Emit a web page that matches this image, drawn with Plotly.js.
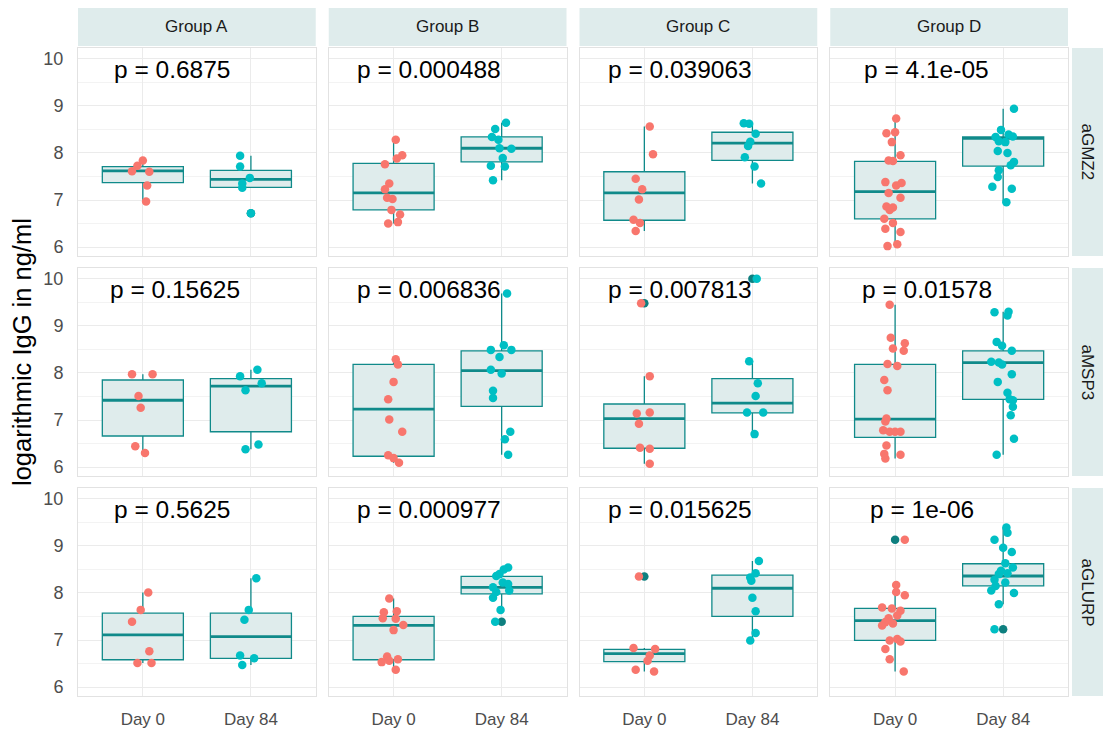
<!DOCTYPE html>
<html><head><meta charset="utf-8">
<script src="https://cdn.plot.ly/plotly-3.0.1.min.js"></script>
<style>html,body{margin:0;padding:0;background:#fff}</style>
</head><body><div id="chart" style="width:1103px;height:735px"></div>
<script>
// ---------- categories / labels ----------
const groups = ['Group A', 'Group B', 'Group C', 'Group D'];
const antigens = ['aGMZ2', 'aMSP3', 'aGLURP'];
const days = ['Day 0', 'Day 84'];
const dayPos = [1, 2];
const yTicks = [6, 7, 8, 9, 10];
const pLabels = [
  ['p = 0.6875', 'p = 0.000488', 'p = 0.039063', 'p = 4.1e-05'],
  ['p = 0.15625', 'p = 0.006836', 'p = 0.007813', 'p = 0.01578'],
  ['p = 0.5625', 'p = 0.000977', 'p = 0.015625', 'p = 1e-06']
];

// ---------- aGMZ2 ----------
const GMZ2_A_D0 = [7.84,7.73,7.61,7.60,7.31,6.97];
const GMZ2_A_D0_DX = [0,-0.05,-0.10,0.06,0.04,0.03];
const GMZ2_A_D84 = [7.94,7.71,7.47,7.35,7.26,6.72];
const GMZ2_A_D84_DX = [-0.10,-0.10,-0.01,-0.08,-0.08,0];
const GMZ2_A_BOX = [[6.97,7.37,7.62,7.71,7.84],[7.26,7.27,7.44,7.63,7.94]];
const GMZ2_A_OUT = [[],[6.72]];

const GMZ2_B_D0 = [8.28,7.95,7.88,7.76,7.35,7.23,7.05,7.02,6.79,6.69,6.53,6.50];
const GMZ2_B_D0_DX = [0.02,0.08,0.03,-0.08,-0.04,-0.08,-0.06,-0.01,-0.02,0.06,0.04,-0.05];
const GMZ2_B_D84 = [8.64,8.51,8.34,8.28,8.10,8.09,7.89,7.73,7.71,7.42];
const GMZ2_B_D84_DX = [0.04,-0.06,-0.09,-0.03,-0.02,0.09,0.01,-0.10,0.03,-0.08];
const GMZ2_B_BOX = [[6.50,6.79,7.15,7.78,8.28],[7.42,7.81,8.10,8.34,8.64]];
const GMZ2_B_OUT = [[],[]];

const GMZ2_C_D0 = [8.56,7.97,7.45,7.23,7.01,6.58,6.51,6.34];
const GMZ2_C_D0_DX = [0.05,0.08,-0.08,-0.02,-0.05,-0.10,-0.04,-0.08];
const GMZ2_C_D84 = [8.63,8.62,8.41,8.24,8.15,7.91,7.71,7.35];
const GMZ2_C_D84_DX = [-0.08,-0.03,0.03,-0.02,-0.04,-0.07,0.02,0.08];
const GMZ2_C_BOX = [[6.34,6.57,7.15,7.60,8.56],[7.35,7.84,8.21,8.44,8.63]];
const GMZ2_C_OUT = [[],[]];

const GMZ2_D_D0 = [8.73,8.42,8.44,8.23,7.95,7.84,7.83,7.38,7.36,7.31,7.15,7.05,6.86,6.84,6.79,6.60,6.51,6.39,6.32,6.06,6.02];
const GMZ2_D_D0_DX = [0.01,-0.08,0,-0.03,0.05,-0.06,-0.02,-0.09,0.06,0.01,-0.06,0.05,-0.08,-0.02,-0.05,-0.10,-0.02,-0.09,0.05,0.02,-0.07];
const GMZ2_D_D84 = [8.94,8.49,8.39,8.34,8.35,8.25,8.23,8.04,8.00,7.81,7.74,7.63,7.49,7.28,7.24,6.95];
const GMZ2_D_D84_DX = [0.10,-0.02,0.05,-0.07,0.09,-0.04,0.02,-0.05,0.04,0.10,0.07,-0.04,-0.05,-0.10,0.08,0.03];
const GMZ2_D_BOX = [[6.02,6.60,7.18,7.82,8.73],[6.95,7.72,8.31,8.34,8.94]];
const GMZ2_D_OUT = [[],[]];

// ---------- aMSP3 ----------
const MSP3_A_D0 = [7.97,7.97,7.51,7.26,6.44,6.30];
const MSP3_A_D0_DX = [-0.10,0.09,-0.04,-0.02,-0.07,0.02];
const MSP3_A_D84 = [8.07,7.93,7.78,7.63,6.48,6.38];
const MSP3_A_D84_DX = [0.06,-0.10,0.10,-0.05,0.07,-0.05];
const MSP3_A_BOX = [[6.30,6.66,7.42,7.85,7.97],[6.38,6.75,7.72,7.88,8.07]];
const MSP3_A_OUT = [[],[]];

const MSP3_B_D0 = [8.29,8.18,7.81,7.44,7.01,6.75,6.25,6.19,6.09];
const MSP3_B_D0_DX = [0.02,0.04,0,-0.05,-0.04,0.08,-0.05,0,0.05];
const MSP3_B_D84 = [9.69,8.59,8.49,8.49,8.34,8.07,7.99,7.62,7.47,6.75,6.59,6.26];
const MSP3_B_D84_DX = [0.05,0.02,0.09,-0.10,-0.02,-0.10,0,-0.08,-0.08,0.08,0.03,0.06];
const MSP3_B_BOX = [[6.09,6.23,7.23,8.18,8.29],[6.26,7.29,8.05,8.47,9.69]];
const MSP3_B_OUT = [[],[]];

const MSP3_C_D0 = [9.48,7.93,7.16,7.14,6.92,6.41,6.39,6.07];
const MSP3_C_D0_DX = [-0.03,0.05,0.05,-0.07,-0.05,-0.04,0.05,0.05];
const MSP3_C_D84 = [10.0,8.25,7.78,7.51,7.16,7.16,6.70];
const MSP3_C_D84_DX = [0.04,-0.03,0.05,0.03,-0.05,0.10,0.02];
const MSP3_C_BOX = [[6.07,6.40,7.03,7.34,7.93],[6.70,7.15,7.36,7.88,8.25]];
const MSP3_C_OUT = [[9.48],[10.0]];

const MSP3_D_D0 = [9.45,8.75,8.63,8.52,8.47,8.19,8.15,7.85,7.63,7.03,6.97,6.78,6.75,6.75,6.75,6.46,6.28,6.26,6.18];
const MSP3_D_D0_DX = [-0.05,-0.04,0.09,-0.02,0.08,-0.07,0.02,-0.10,-0.07,-0.08,-0.09,-0.11,-0.05,0.05,0,-0.08,-0.10,0.05,-0.09];
const MSP3_D_D84 = [9.29,9.30,9.22,8.66,8.58,8.47,8.24,8.22,8.18,7.97,7.81,7.58,7.44,7.42,7.28,7.10,6.60,6.26];
const MSP3_D_D84_DX = [-0.08,0.05,0.04,-0.06,-0.01,0.08,-0.11,-0.04,-0.01,0.08,-0.05,0.04,0.06,0.09,0.09,0.07,0.10,-0.06];
const MSP3_D_BOX = [[6.18,6.63,7.02,8.18,9.45],[6.26,7.44,8.22,8.47,9.30]];
const MSP3_D_OUT = [[],[]];

// ---------- aGLURP ----------
const GLURP_A_D0 = [8.01,7.64,7.39,6.76,6.51,6.51];
const GLURP_A_D0_DX = [0.05,-0.02,-0.10,0.06,-0.05,0.08];
const GLURP_A_D84 = [8.31,7.64,7.43,6.67,6.61,6.47];
const GLURP_A_D84_DX = [0.05,-0.02,-0.06,-0.10,0.03,-0.08];
const GLURP_A_BOX = [[6.51,6.58,7.11,7.57,8.01],[6.47,6.61,7.07,7.57,8.31]];
const GLURP_A_OUT = [[],[]];

const GLURP_B_D0 = [7.88,7.61,7.59,7.46,7.45,7.32,7.21,6.65,6.59,6.56,6.53,6.37];
const GLURP_B_D0_DX = [-0.04,0.03,-0.09,-0.10,0.02,0.09,0,-0.06,0.04,-0.04,-0.11,0.02];
const GLURP_B_D84 = [8.54,8.50,8.40,8.36,8.22,8.19,8.12,8.05,8.02,7.90,7.64,7.39];
const GLURP_B_D84_DX = [0.06,0.02,-0.02,-0.05,0.01,0.06,-0.08,0.07,-0.05,-0.08,-0.01,-0.06];
const GLURP_B_BOX = [[6.37,6.58,7.31,7.50,7.88],[7.64,7.98,8.12,8.35,8.54]];
const GLURP_B_OUT = [[],[7.39]];

const GLURP_C_D0 = [8.35,6.83,6.81,6.67,6.56,6.37,6.33];
const GLURP_C_D0_DX = [-0.05,-0.10,0.10,0.05,0.03,-0.08,0.09];
const GLURP_C_D84 = [8.68,8.42,8.33,8.26,7.90,7.61,7.15,6.99];
const GLURP_C_D84_DX = [0.06,0.03,-0.02,-0.01,0,0.03,0.03,-0.02];
const GLURP_C_BOX = [[6.33,6.54,6.71,6.80,6.83],[6.99,7.50,8.10,8.38,8.68]];
const GLURP_C_OUT = [[8.35],[]];

const GLURP_D_D0 = [9.13,8.17,8.02,7.95,7.69,7.67,7.62,7.52,7.46,7.38,7.35,7.31,7.02,6.99,6.97,6.81,6.59,6.33];
const GLURP_D_D0_DX = [0.09,0.01,0.01,0.09,-0.12,-0.03,0.05,0.02,-0.06,-0.09,-0.02,-0.12,0.02,-0.05,0.05,-0.09,-0.05,0.08];
const GLURP_D_D84 = [9.39,9.28,9.13,8.96,8.87,8.63,8.54,8.47,8.42,8.40,8.28,8.22,8.15,8.05,8.00,7.76,7.23];
const GLURP_D_D84_DX = [0.03,0.04,-0.08,0,0.08,0.02,0.09,-0.02,0.04,-0.04,-0.08,0.02,-0.07,-0.11,0.10,-0.04,-0.08];
const GLURP_D_BOX = [[6.33,6.99,7.41,7.67,8.17],[7.76,8.15,8.36,8.62,9.39]];
const GLURP_D_OUT = [[9.13],[7.23]];

// ---------- assemble panels (rows = antigens, cols = groups) ----------
const panels = [
  [[GMZ2_A_D0,GMZ2_A_D0_DX,GMZ2_A_D84,GMZ2_A_D84_DX,GMZ2_A_BOX,GMZ2_A_OUT],
   [GMZ2_B_D0,GMZ2_B_D0_DX,GMZ2_B_D84,GMZ2_B_D84_DX,GMZ2_B_BOX,GMZ2_B_OUT],
   [GMZ2_C_D0,GMZ2_C_D0_DX,GMZ2_C_D84,GMZ2_C_D84_DX,GMZ2_C_BOX,GMZ2_C_OUT],
   [GMZ2_D_D0,GMZ2_D_D0_DX,GMZ2_D_D84,GMZ2_D_D84_DX,GMZ2_D_BOX,GMZ2_D_OUT]],
  [[MSP3_A_D0,MSP3_A_D0_DX,MSP3_A_D84,MSP3_A_D84_DX,MSP3_A_BOX,MSP3_A_OUT],
   [MSP3_B_D0,MSP3_B_D0_DX,MSP3_B_D84,MSP3_B_D84_DX,MSP3_B_BOX,MSP3_B_OUT],
   [MSP3_C_D0,MSP3_C_D0_DX,MSP3_C_D84,MSP3_C_D84_DX,MSP3_C_BOX,MSP3_C_OUT],
   [MSP3_D_D0,MSP3_D_D0_DX,MSP3_D_D84,MSP3_D_D84_DX,MSP3_D_BOX,MSP3_D_OUT]],
  [[GLURP_A_D0,GLURP_A_D0_DX,GLURP_A_D84,GLURP_A_D84_DX,GLURP_A_BOX,GLURP_A_OUT],
   [GLURP_B_D0,GLURP_B_D0_DX,GLURP_B_D84,GLURP_B_D84_DX,GLURP_B_BOX,GLURP_B_OUT],
   [GLURP_C_D0,GLURP_C_D0_DX,GLURP_C_D84,GLURP_C_D84_DX,GLURP_C_BOX,GLURP_C_OUT],
   [GLURP_D_D0,GLURP_D_D0_DX,GLURP_D_D84,GLURP_D_D84_DX,GLURP_D_BOX,GLURP_D_OUT]]
];

// ---------- style ----------
const FONT = '"Liberation Sans", Arial, sans-serif';
const COL_D0 = '#F8766D', COL_D84 = '#00BFC4';
const BOX_LINE = '#108a8a', BOX_FILL = '#dfecec', OUT_COL = '#0e7f7f';
const STRIP_FILL = '#dfecec';
const GRID = '#ebebeb', MINOR = '#f3f3f3', BORDER = '#e2e2e2';
const BOX_W = 0.75, PT = 8.5;
const P_FS = 24.5;
const TICK_FS = 17;

const W = 1103, H = 735;
const M = {l: 78, r: 35, t: 48, b: 39};
const PW = W - M.l - M.r, PH = H - M.t - M.b;
const colW = 237.75, colGap = 13.0;
const rowH = 208, rowGap = 12;

const layout = {
  width: W, height: H, margin: M, showlegend: false,
  paper_bgcolor: '#ffffff', plot_bgcolor: '#ffffff',
  font: {family: FONT, size: 15, color: '#4d4d4d'},
  shapes: [], annotations: [], hovermode: false
};
const traces = [];

const ctx = document.createElement('canvas').getContext('2d');
ctx.font = P_FS + 'px "Liberation Sans"';

for (let r = 0; r < 3; r++) {
  const top = r * (rowH + rowGap);
  const yd = [(PH - top - rowH) / PH, (PH - top) / PH];
  for (let c = 0; c < 4; c++) {
    const left = c * (colW + colGap);
    const xd = [left / PW, (left + colW) / PW];
    const k = r * 4 + c + 1;
    const xa = 'xaxis' + (k === 1 ? '' : k), ya = 'yaxis' + (k === 1 ? '' : k);
    const xr = 'x' + (k === 1 ? '' : k), yr = 'y' + (k === 1 ? '' : k);
    layout[xa] = {
      domain: xd, anchor: yr, range: [0.4, 2.6], tickvals: dayPos, ticktext: days,
      showticklabels: r === 2, ticks: 'outside', ticklen: 8, tickcolor: 'rgba(0,0,0,0)',
      showgrid: true, gridcolor: GRID, gridwidth: 1, zeroline: false,
      showline: true, mirror: true, linecolor: BORDER, linewidth: 1,
      tickfont: {family: FONT, size: TICK_FS, color: '#4d4d4d'}, fixedrange: true
    };
    layout[ya] = {
      domain: yd, anchor: xr, range: [5.81, 10.23], tickvals: yTicks,
      showticklabels: c === 0, ticks: 'outside', ticklen: 10, tickcolor: 'rgba(0,0,0,0)',
      showgrid: true, gridcolor: GRID, gridwidth: 1, zeroline: false,
      minor: {dtick: 0.5, tick0: 6, showgrid: true, gridcolor: MINOR, gridwidth: 1, ticks: ''},
      showline: true, mirror: true, linecolor: BORDER, linewidth: 1,
      tickfont: {family: FONT, size: TICK_FS + 1, color: '#4d4d4d'}, fixedrange: true
    };

    const [d0, d0dx, d84, d84dx, box, out] = panels[r][c];
    traces.push({
      type: 'box', xaxis: xr, yaxis: yr, x: dayPos,
      lowerfence: box.map(b => b[0]), q1: box.map(b => b[1]), median: box.map(b => b[2]),
      q3: box.map(b => b[3]), upperfence: box.map(b => b[4]),
      width: BOX_W, whiskerwidth: 0, boxpoints: false,
      fillcolor: BOX_FILL, line: {color: BOX_LINE, width: 1.3}, hoverinfo: 'skip'
    });
    const mx = [], my = [];
    box.forEach((b, i) => { mx.push(dayPos[i] - BOX_W / 2, dayPos[i] + BOX_W / 2, null); my.push(b[2], b[2], null); });
    traces.push({type: 'scatter', mode: 'lines', xaxis: xr, yaxis: yr, x: mx, y: my,
      line: {color: BOX_LINE, width: 2.8}, hoverinfo: 'skip'});
    const ox = [], oy = [];
    out.forEach((arr, i) => arr.forEach(v => { ox.push(dayPos[i]); oy.push(v); }));
    if (ox.length) traces.push({type: 'scatter', mode: 'markers', xaxis: xr, yaxis: yr, x: ox, y: oy,
      marker: {color: OUT_COL, size: PT}, hoverinfo: 'skip'});
    traces.push({type: 'scatter', mode: 'markers', xaxis: xr, yaxis: yr,
      x: d0dx.map(d => dayPos[0] + d), y: d0, marker: {color: COL_D0, size: PT}, hoverinfo: 'skip'});
    traces.push({type: 'scatter', mode: 'markers', xaxis: xr, yaxis: yr,
      x: d84dx.map(d => dayPos[1] + d), y: d84, marker: {color: COL_D84, size: PT}, hoverinfo: 'skip'});

    const tw = ctx.measureText(pLabels[r][c]).width;
    layout.annotations.push({
      xref: xr, yref: yr, x: 1.04, y: 9.78, text: pLabels[r][c], showarrow: false,
      xanchor: 'left', yanchor: 'middle', xshift: -0.3 * tw,
      font: {family: FONT, size: P_FS, color: '#000000'}
    });

    if (r === 0) {
      layout.shapes.push({type: 'rect', xref: 'paper', yref: 'paper', layer: 'below',
        x0: xd[0], x1: xd[1], y0: 1 + 2 / PH, y1: 1 + 40 / PH,
        fillcolor: STRIP_FILL, line: {width: 0}});
      layout.annotations.push({xref: 'paper', yref: 'paper', x: (xd[0] + xd[1]) / 2, y: 1 + 21 / PH,
        text: groups[c], showarrow: false, xanchor: 'center', yanchor: 'middle',
        font: {family: FONT, size: 17, color: '#1a1a1a'}});
    }
  }
  layout.shapes.push({type: 'rect', xref: 'paper', yref: 'paper', layer: 'below',
    x0: 1 + 4 / PW, x1: 1 + 35 / PW, y0: yd[0], y1: yd[1],
    fillcolor: STRIP_FILL, line: {width: 0}});
  layout.annotations.push({xref: 'paper', yref: 'paper', x: 1 + 19.5 / PW, y: (yd[0] + yd[1]) / 2,
    text: antigens[r], showarrow: false, textangle: 90, xanchor: 'center', yanchor: 'middle',
    font: {family: FONT, size: 17, color: '#1a1a1a'}});
}
// y-axis title, centred over panels + top strips
layout.annotations.push({xref: 'paper', yref: 'paper', x: -56 / PW, y: (PH + 40) / 2 / PH,
  text: 'logarithmic IgG in ng/ml', showarrow: false, textangle: -90,
  xanchor: 'center', yanchor: 'middle', font: {family: FONT, size: 25.5, color: '#000000'}});

Plotly.newPlot('chart', traces, layout, {staticPlot: true, displayModeBar: false});
</script>
</body></html>
